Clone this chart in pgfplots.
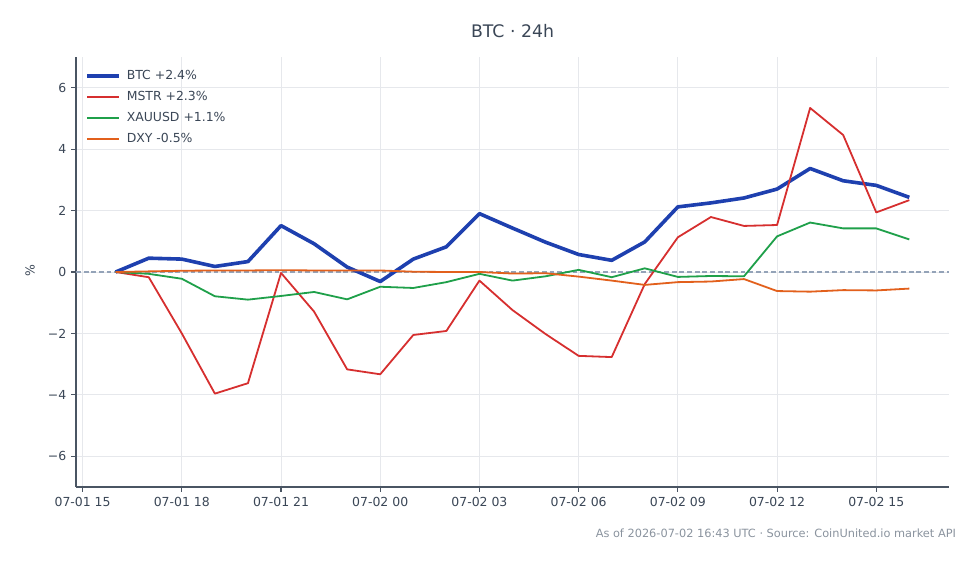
\documentclass[border=0pt]{standalone}
\usepackage{fontspec}
\setmainfont{DejaVu Sans}
\usepackage{pgfplots}
\pgfplotsset{compat=1.18}
\definecolor{cbtc}{HTML}{1E40AF}
\definecolor{cmstr}{HTML}{D62F2F}
\definecolor{cxau}{HTML}{1FA04A}
\definecolor{cdxy}{HTML}{E2601C}
\definecolor{ctext}{HTML}{3A4656}
\definecolor{caxis}{HTML}{4A5563}
\definecolor{cgrid}{HTML}{E6E8EC}
\definecolor{czero}{HTML}{94A3B8}
\definecolor{cfoot}{HTML}{8A939E}
\begin{document}
\begin{tikzpicture}[x=1bp,y=1bp]
\path (0,0) rectangle (705.6,406.08);
\begin{axis}[
  at={(54.72bp,55.44bp)}, anchor=south west,
  scale only axis, width=628.56bp, height=309.6bp,
  xmin=-0.2, xmax=26.2, ymin=-7, ymax=7,
  axis x line*=bottom, axis y line*=left,
  axis line style={caxis, line width=0.8pt},
  xtick={0,3,6,9,12,15,18,21,24},
  xticklabels={07-01 15,07-01 18,07-01 21,07-02 00,07-02 03,07-02 06,07-02 09,07-02 12,07-02 15},
  ytick={-6,-4,-2,0,2,4,6},
  yticklabels={−6,−4,−2,0,2,4,6},
  tick align=outside, major tick length=3.5bp,
  tick style={caxis, line width=0.8pt},
  grid=major, major grid style={cgrid, line width=0.6pt},
  ticklabel style={font=\fontsize{9}{11}\selectfont, text=ctext},
  /pgf/number format/assume math mode=true,
  legend style={at={(0.006,0.981)}, anchor=north west, draw=none, fill=none,
    font=\fontsize{9}{11}\selectfont, text=ctext,
    nodes={inner sep=1.5bp, text height=6.6bp, text depth=1.8bp},
    row sep=3.8bp},
  legend cell align=left,
  legend image code/.code={\draw[#1] (0bp,0bp) -- (23bp,0bp); \path (25.5bp,0bp);},
]
\addplot[czero, dash pattern=on 3.5bp off 2bp, line width=0.8pt, forget plot] coordinates {(-0.2,0) (26.2,0)};
\addplot[cbtc, line width=2.6bp, line join=round, forget plot] coordinates {
(1,0) (2,0.45) (3,0.42) (4,0.18) (5,0.34) (6,1.51) (7,0.92) (8,0.16) (9,-0.31)
(10,0.42) (11,0.82) (12,1.90) (13,1.43) (14,0.97) (15,0.57) (16,0.38) (17,0.98)
(18,2.12) (19,2.25) (20,2.41) (21,2.70) (22,3.37) (23,2.97) (24,2.82) (25,2.43)};
\addplot[cmstr, line width=1.3bp, line join=round, forget plot] coordinates {
(1,0) (2,-0.17) (3,-2.0) (4,-3.96) (5,-3.62) (6,-0.03) (7,-1.29) (8,-3.17) (9,-3.33)
(10,-2.05) (11,-1.92) (12,-0.28) (13,-1.24) (14,-2.02) (15,-2.73) (16,-2.77) (17,-0.39)
(18,1.13) (19,1.79) (20,1.50) (21,1.53) (22,5.34) (23,4.46) (24,1.94) (25,2.34)};
\addplot[cxau, line width=1.3bp, line join=round, forget plot] coordinates {
(1,0) (2,-0.06) (3,-0.22) (4,-0.79) (5,-0.90) (6,-0.78) (7,-0.65) (8,-0.89) (9,-0.48)
(10,-0.52) (11,-0.33) (12,-0.06) (13,-0.28) (14,-0.14) (15,0.07) (16,-0.17) (17,0.12)
(18,-0.16) (19,-0.13) (20,-0.14) (21,1.16) (22,1.61) (23,1.42) (24,1.42) (25,1.06)};
\addplot[cdxy, line width=1.3bp, line join=round, forget plot] coordinates {
(1,0) (2,0.02) (3,0.04) (4,0.05) (5,0.05) (6,0.06) (7,0.05) (8,0.05) (9,0.05)
(10,0.01) (11,0.0) (12,0.0) (13,-0.05) (14,-0.04) (15,-0.15) (16,-0.28) (17,-0.42)
(18,-0.33) (19,-0.31) (20,-0.23) (21,-0.62) (22,-0.64) (23,-0.59) (24,-0.60) (25,-0.54)};
\addlegendimage{cbtc, line width=2.6bp}
\addlegendentry{BTC +2.4\%}
\addlegendimage{cmstr, line width=1.4bp}
\addlegendentry{MSTR +2.3\%}
\addlegendimage{cxau, line width=1.4bp}
\addlegendentry{XAUUSD +1.1\%}
\addlegendimage{cdxy, line width=1.4bp}
\addlegendentry{DXY -0.5\%}
\end{axis}
\node[text=ctext, font=\fontsize{12.5}{15}\selectfont] at (369,383.8) {BTC · 24h};
\node[text=ctext, font=\fontsize{9}{11}\selectfont, rotate=90] at (21.6,211) {\%};
\node[text=cfoot, font=\fontsize{8.2}{10}\selectfont, anchor=east, inner sep=0pt] at (688.5,22.3) {As of 2026-07-02 16:43 UTC · Source: CoinUnited.io market API};
\end{tikzpicture}
\end{document}
